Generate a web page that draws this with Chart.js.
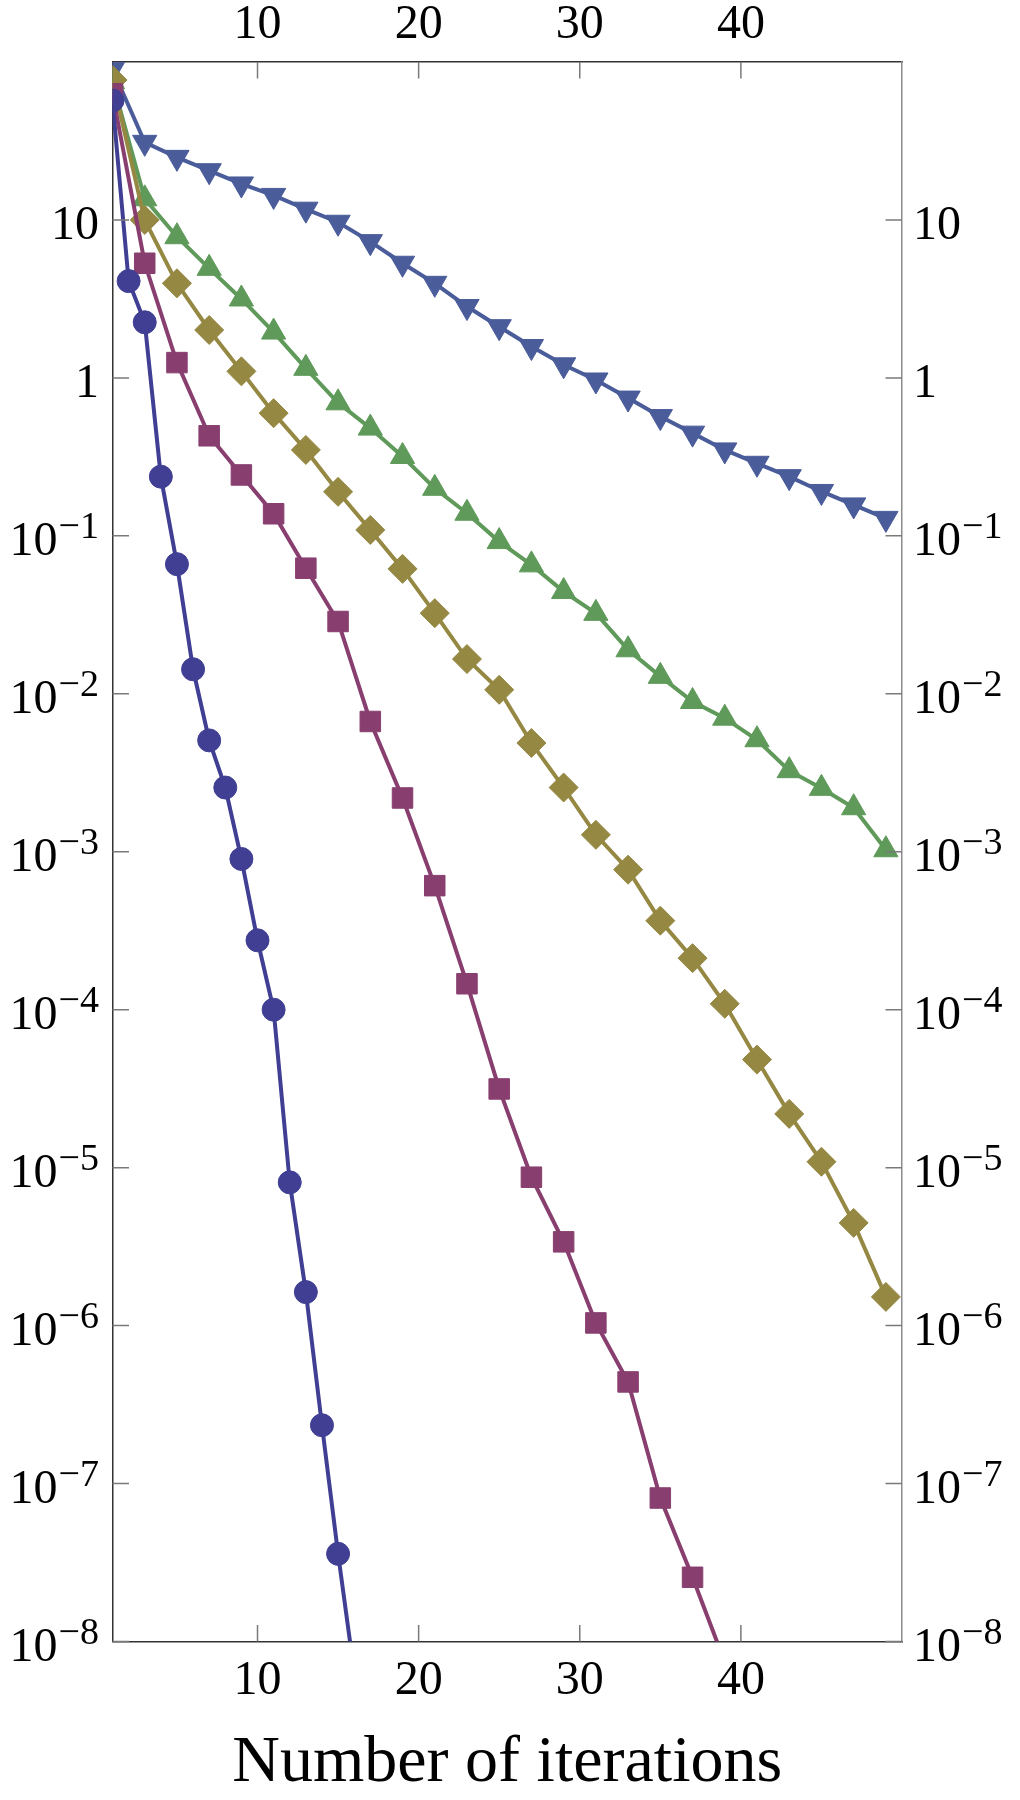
<!DOCTYPE html>
<html>
<head>
<meta charset="utf-8">
<script src="https://cdn.jsdelivr.net/npm/chart.js@4.4.0/dist/chart.umd.min.js"></script>
<style>
    html, body { margin: 0; padding: 0; background: #ffffff; }
    #chart { display: block; }
</style>
</head>
<body>
<canvas id="chart" width="1020" height="1800"></canvas>
<script>
// iteration numbers and residuals
var circleIters = [1, 2, 3, 4, 5, 6, 7, 8, 9, 10, 11, 12, 13, 14, 15, 16];
var circleVals = [57, 4.1, 2.25, 0.237, 0.0662, 0.0143, 0.00507, 0.00255, 9.0e-4, 2.75e-4,
    1.0e-4, 8.07e-6, 1.63e-6, 2.34e-7, 3.59e-8, 6.4e-9];

var squareIters = [1, 3, 5, 7, 9, 11, 13, 15, 17, 19, 21, 23, 25, 27, 29, 31, 33, 35, 37, 39];
var squareVals = [63, 5.32, 1.25, 0.43, 0.243, 0.138, 0.0624, 0.0287, 0.00668, 0.00219,
    6.1e-4, 1.46e-4, 3.15e-5, 8.7e-6, 3.39e-6, 1.04e-6, 4.4e-7, 8.1e-8, 2.55e-8, 7.4e-9];

var oddIters = [1, 3, 5, 7, 9, 11, 13, 15, 17, 19, 21, 23, 25, 27, 29, 31, 33, 35, 37, 39,
    41, 43, 45, 47, 49];
var diamondVals = [77, 10, 3.97, 2.01, 1.10, 0.598, 0.35, 0.19, 0.109, 0.0618, 0.0324, 0.0166,
    0.0106, 0.00488, 0.00255, 1.28e-3, 7.7e-4, 3.66e-4, 2.12e-4, 1.09e-4, 4.83e-5, 2.19e-5,
    1.09e-5, 4.47e-6, 1.52e-6];
var upTriVals = [75, 13.6, 7.83, 4.94, 3.16, 1.95, 1.15, 0.695, 0.481, 0.318, 0.2, 0.139,
    0.092, 0.0655, 0.0444, 0.0323, 0.019, 0.0129, 0.00894, 0.00701, 0.00512, 0.00326,
    0.00252, 0.0019, 0.00103];
var downTriVals = [90, 31, 24.9, 20.5, 16.9, 14.3, 11.7, 9.67, 7.29, 5.32, 3.97, 2.83, 2.11,
    1.58, 1.21, 0.97, 0.745, 0.569, 0.447, 0.35, 0.288, 0.237, 0.191, 0.157, 0.129];

// axis ticks
var xTicks = [10, 20, 30, 40];
var yTicks = [10, 1, 1e-1, 1e-2, 1e-3, 1e-4, 1e-5, 1e-6, 1e-7, 1e-8];
var yTickBase = ['10', '1', '10', '10', '10', '10', '10', '10', '10', '10'];
var yTickExp = ['', '', '\u22121', '\u22122', '\u22123', '\u22124', '\u22125', '\u22126', '\u22127', '\u22128'];
var xTitle = 'Number of iterations';

var SERIF = '"Liberation Serif", "Times New Roman", serif';

function points(xs, ys){
    return xs.map(function(x, i){ return {x: x, y: ys[i]}; });
}

function series(data, color, style, radius, rotation){
    return {
        data: data,
        borderColor: color,
        backgroundColor: color,
        borderWidth: 4,
        pointStyle: style,
        pointRadius: radius,
        pointRotation: rotation || 0,
        pointBorderWidth: 1,
        pointBorderColor: color,
        pointBackgroundColor: color,
        tension: 0,
        clip: 0
    };
}

// inward tick marks and the tick / axis labels (10 with raised exponents)
var frameLabels = {
    id: 'frameLabels',
    afterDraw: function(chart){
        var ctx = chart.ctx;
        var a = chart.chartArea;
        var xs = chart.scales.x, ys = chart.scales.y;
        var len = 16.5;
        ctx.save();
        ctx.strokeStyle = '#7a7a7a';
        ctx.lineWidth = 1.5;
        ctx.beginPath();
        xTicks.forEach(function(v){
            var px = xs.getPixelForValue(v);
            ctx.moveTo(px, a.bottom); ctx.lineTo(px, a.bottom - len);
            ctx.moveTo(px, a.top); ctx.lineTo(px, a.top + len);
        });
        yTicks.forEach(function(v){
            var py = ys.getPixelForValue(v);
            ctx.moveTo(a.left, py); ctx.lineTo(a.left + len, py);
            ctx.moveTo(a.right, py); ctx.lineTo(a.right - len, py);
        });
        ctx.stroke();

        ctx.fillStyle = '#000000';
        ctx.textBaseline = 'alphabetic';
        ctx.font = '48px ' + SERIF;
        ctx.textAlign = 'center';
        xTicks.forEach(function(v){
            var px = xs.getPixelForValue(v);
            ctx.fillText(String(v), px, a.top - 24);
            ctx.fillText(String(v), px, a.bottom + 52);
        });

        ctx.textAlign = 'left';
        yTicks.forEach(function(v, i){
            var py = ys.getPixelForValue(v);
            ctx.font = '48px ' + SERIF;
            var wb = ctx.measureText(yTickBase[i]).width;
            ctx.font = '38px ' + SERIF;
            var we = yTickExp[i] ? ctx.measureText(yTickExp[i]).width + 1 : 0;
            var lx = a.left - 13.5 - wb - we;
            var rx = a.right + 11;
            [lx, rx].forEach(function(sx){
                ctx.font = '48px ' + SERIF;
                ctx.fillText(yTickBase[i], sx, py + 19);
                if(yTickExp[i]){
                    ctx.font = '38px ' + SERIF;
                    ctx.fillText(yTickExp[i], sx + wb + 1, py + 2);
                }
            });
        });

        ctx.font = '66px ' + SERIF;
        ctx.textAlign = 'center';
        ctx.fillText(xTitle, (a.left + a.right) / 2, 1781);
        ctx.restore();
    }
};

function axis(position, extra){
    var cfg = {
        position: position,
        ticks: {display: false},
        grid: {display: false, drawTicks: false},
        border: {display: true, color: '#333333', width: 1.5}
    };
    return Object.assign(cfg, extra);
}

var ctx = document.getElementById('chart').getContext('2d');
var chart = new Chart(ctx, {
    type: 'line',
    data: {
        datasets: [
            series(points(circleIters, circleVals), '#403f93', 'circle', 11.5),
            series(points(squareIters, squareVals), '#883f6f', 'rect', 14.5),
            series(points(oddIters, diamondVals), '#958843', 'rectRot', 14.5),
            series(points(oddIters, upTriVals), '#5f9a5a', 'triangle', 14),
            series(points(oddIters, downTriVals), '#4a5c9a', 'triangle', 14, 180)
        ]
    },
    options: {
        responsive: false,
        animation: false,
        layout: {padding: 0},
        plugins: {legend: {display: false}, tooltip: {enabled: false}},
        scales: {
            x: axis('bottom', {type: 'linear', min: 1, max: 50,
                afterFit: function(s){ s.height = 158.5; }}),
            x2: axis('top', {type: 'linear', min: 1, max: 50,
                afterFit: function(s){ s.height = 62; }}),
            y: axis('left', {type: 'logarithmic', min: 1e-8, max: 100,
                afterFit: function(s){ s.width = 112.5; }}),
            y2: axis('right', {type: 'logarithmic', min: 1e-8, max: 100,
                border: {display: true, color: '#8c8c8c', width: 1.5},
                afterFit: function(s){ s.width = 118; }})
        }
    },
    plugins: [frameLabels]
});
</script>
</body>
</html>
